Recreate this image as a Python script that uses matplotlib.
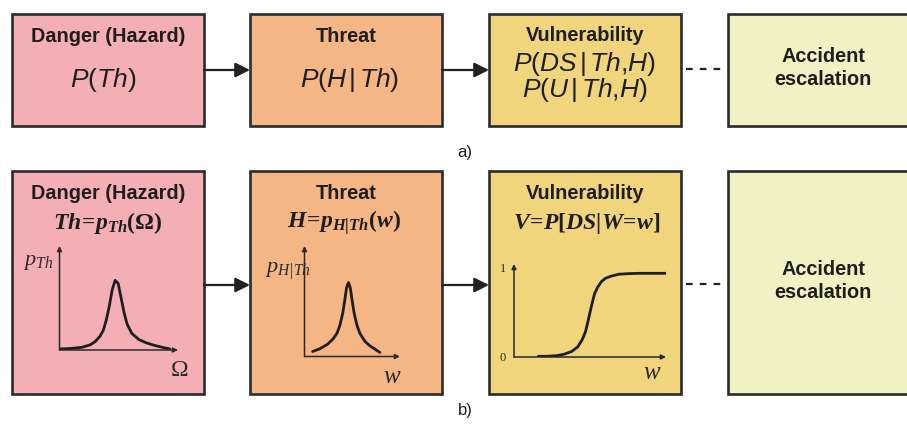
import matplotlib
matplotlib.use('Agg')
import matplotlib.pyplot as plt
from matplotlib.patches import Rectangle

# mathtext: bold italic serif for the formulas, plain italic serif via \mathsf,
# sans italic letters (\mathcal) with upright sans signs (\mathtt) for the top row
plt.rcParams['mathtext.fontset'] = 'custom'
plt.rcParams['mathtext.it'] = 'Liberation Serif:italic:bold'
plt.rcParams['mathtext.rm'] = 'Liberation Serif:bold'
plt.rcParams['mathtext.bf'] = 'Liberation Serif:bold:italic'
plt.rcParams['mathtext.sf'] = 'Liberation Serif:italic'
plt.rcParams['mathtext.cal'] = 'Liberation Sans:italic'
plt.rcParams['mathtext.tt'] = 'Liberation Sans'

W, H = 907, 425

box_colors = ['#f4afb4', '#f5b685', '#f0d57c', '#f1f1c4']
titles = ['Danger (Hazard)', 'Threat', 'Vulnerability', 'Accident\nescalation']
top_formulas = [r'$\mathcal{P}\mathtt{(}\mathcal{Th}\mathtt{)}$',
                r'$\mathcal{P}\mathtt{(}\mathcal{H}\,\mathtt{|}\,\mathcal{Th}\mathtt{)}$',
                r'$\mathcal{P}\mathtt{(}\mathcal{DS}\,\mathtt{|}\,\mathcal{Th}\mathtt{,}'
                r'\mathcal{H}\mathtt{)}$' + '\n' +
                r'$\mathcal{P}\mathtt{(}\mathcal{U}\,\mathtt{|}\,\mathcal{Th}\mathtt{,}'
                r'\mathcal{H}\mathtt{)}$']
bottom_formulas = [r'$Th\!=\!p_{Th}(\Omega)$', r'$H\!=\!p_{H|Th}(w)$',
                   r'$V\!=\!P[DS|W\!=\!w]$']

# curves (axes run 0..1)
danger_x = [0.0, 0.10, 0.19, 0.26, 0.30, 0.34, 0.37, 0.395, 0.42, 0.445, 0.47,
            0.495, 0.52, 0.545, 0.57, 0.61, 0.67, 0.73, 0.80, 0.87, 0.93]
danger_y = [0.01, 0.015, 0.026, 0.05, 0.08, 0.13, 0.19, 0.29, 0.42, 0.58, 0.67,
            0.64, 0.50, 0.36, 0.25, 0.16, 0.10, 0.07, 0.045, 0.025, 0.01]
threat_x = [0.085, 0.16, 0.24, 0.30, 0.34, 0.37, 0.40, 0.42, 0.44, 0.46, 0.48,
            0.50, 0.52, 0.55, 0.58, 0.63, 0.68, 0.74, 0.79]
threat_y = [0.045, 0.07, 0.11, 0.16, 0.21, 0.28, 0.39, 0.50, 0.62, 0.67, 0.62,
            0.50, 0.39, 0.28, 0.21, 0.14, 0.10, 0.065, 0.036]
vuln_x = [0.16, 0.22, 0.28, 0.33, 0.38, 0.42, 0.45, 0.47, 0.485, 0.50, 0.515,
          0.53, 0.55, 0.575, 0.60, 0.64, 0.69, 0.76, 0.83, 0.92, 1.0]
vuln_y = [0.007, 0.008, 0.014, 0.03, 0.06, 0.11, 0.19, 0.27, 0.37, 0.48, 0.585,
          0.68, 0.75, 0.81, 0.845, 0.87, 0.89, 0.897, 0.90, 0.90, 0.90]

box_x = [12, 250, 489, 728]
box_w = [192, 192, 192, 200]
rows = [(14, 112), (171, 223)]  # (top, height) in pixels

fig = plt.figure(figsize=(W / 100, H / 100), dpi=100)
ax = fig.add_axes([0, 0, 1, 1])
ax.set_xlim(0, W)
ax.set_ylim(H, 0)
ax.axis('off')

sans_b = dict(family='Liberation Sans', weight='bold', fontsize=14.3, color='#1e1e1e',
              ha='center', va='center')
math_i = dict(fontsize=19, color='#1e1e1e', ha='center', va='center')

for top, h in rows:
    for i in range(4):
        ax.add_patch(Rectangle((box_x[i], top), box_w[i], h, facecolor=box_colors[i],
                               edgecolor='#2b2b2b', lw=1.9, zorder=2))
    ymid = top + (70 - 14 if top == 14 else 285 - 171)
    for i in range(2):
        ax.annotate('', xy=(box_x[i + 1], ymid), xytext=(box_x[i] + box_w[i], ymid),
                    arrowprops=dict(arrowstyle='-|>', mutation_scale=22, lw=1.6,
                                    color='#222222', shrinkA=0, shrinkB=0), zorder=3)
    ax.plot([box_x[2] + box_w[2] + 5, box_x[3] - 3], [ymid - 1, ymid - 1], color='#222222',
            lw=1.6, ls=(0, (3, 3.2)), zorder=3)

# top row texts
ax.text(108, 36, titles[0], **sans_b)
ax.text(346, 36, titles[1], **sans_b)
ax.text(585, 35, titles[2], **sans_b)
ax.text(823, 68, titles[3], linespacing=1.3, **sans_b)
ax.text(103, 80, top_formulas[0], **math_i)
ax.text(350, 80, top_formulas[1], **math_i)
ax.text(585, 77, top_formulas[2], linespacing=0.95, **math_i)
ax.text(465, 152, 'a)', family='Liberation Sans', fontsize=12, color='#1e1e1e',
        ha='center', va='center')

# bottom row texts
ax.text(108, 193, titles[0], **sans_b)
ax.text(346, 193, titles[1], **sans_b)
ax.text(585, 193, titles[2], **sans_b)
ax.text(823, 281, titles[3], linespacing=1.3, **sans_b)
for cx, f in zip([108, 344, 587], bottom_formulas):
    ax.text(cx, 223, f, fontsize=17, color='#1e1e1e', ha='center', va='center')
ax.text(465, 411, 'b)', family='Liberation Sans', fontsize=12, color='#1e1e1e',
        ha='center', va='center')

serif_i = dict(family='Liberation Serif', style='italic', color='#2a2a2a',
               ha='center', va='center')
ax.text(23, 262, r'$\mathsf{p}_{\mathsf{Th}}$', fontsize=16, color='#2a2a2a',
        ha='left', va='center')
ax.text(180, 371, 'Ω', family='Liberation Serif', fontsize=17, color='#2a2a2a',
        ha='center', va='center')
ax.text(265, 271, r'$\mathsf{p}_{\mathsf{H|Th}}$', fontsize=16, color='#2a2a2a',
        ha='left', va='center')
ax.text(392, 377, 'w', fontsize=18, **serif_i)
ax.text(652, 373, 'w', fontsize=18, **serif_i)
ax.text(503, 269, '1', family='Liberation Serif', fontsize=9, color='#2a2a2a',
        ha='center', va='center')
ax.text(503, 358, '0', family='Liberation Serif', fontsize=9, color='#2a2a2a',
        ha='center', va='center')


def sketch(x0, y0, x1, y1, xs, ys):
    # x0,y0 = origin pixel, x1 = x arrow tip, y1 = y arrow tip
    a = fig.add_axes([x0 / W, 1 - y0 / H, (x1 - x0) / W, (y0 - y1) / H])
    a.set_xlim(0, 1)
    a.set_ylim(0, 1)
    a.axis('off')
    for tip in [(1, 0), (0, 1)]:
        a.annotate('', xy=tip, xytext=(0, 0),
                   arrowprops=dict(arrowstyle='-|>', mutation_scale=7, lw=1.1,
                                   color='#2a2a2a', shrinkA=0, shrinkB=0))
    a.plot(xs, ys, color='#1e1e1e', lw=2.0, solid_capstyle='round')
    return a


sketch(59.5, 350, 178, 246, danger_x, danger_y)
sketch(304.5, 356.5, 400, 246, threat_x, threat_y)
sketch(514, 357, 666, 264, vuln_x, vuln_y)

fig.savefig('out.png', dpi=100)
